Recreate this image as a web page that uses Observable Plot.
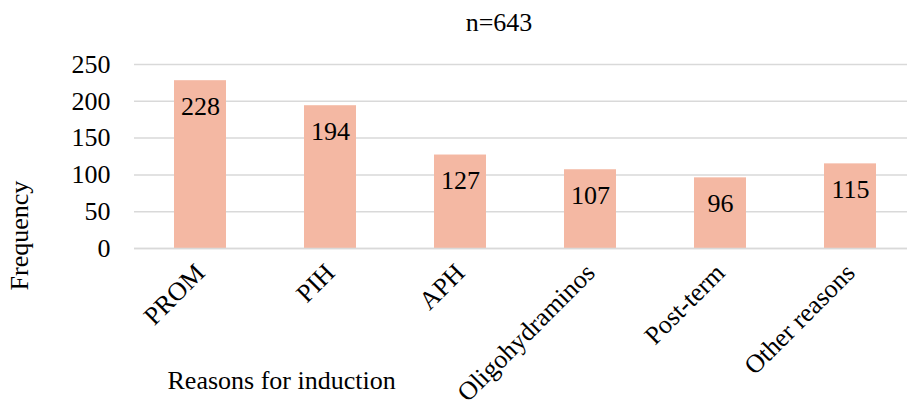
<!DOCTYPE html>
<html>
<head>
<meta charset="utf-8">
<script src="https://cdn.jsdelivr.net/npm/d3@7"></script>
<script src="https://cdn.jsdelivr.net/npm/@observablehq/plot@0.6"></script>
<style>
  html, body { margin: 0; padding: 0; background: #fff; }
  svg { display: block; }
  svg text { font-family: 'Liberation Serif', 'Times New Roman', serif; }
</style>
</head>
<body>
<div id="chart"></div>
<script>
const categories = ["PROM", "PIH", "APH", "Oligohydraminos", "Post-term", "Other reasons"];
const frequencies = [228, 194, 127, 107, 96, 115];
const yTicks = [0, 50, 100, 150, 200, 250];
const titleText = "n=643";
const xTitle = "Reasons for induction";
const yTitle = "Frequency";

const data = categories.map((c, i) => ({reason: c, freq: frequencies[i]}));
const font = "'Liberation Serif', 'Times New Roman', serif";

const chart = Plot.plot({
  width: 907,
  height: 407,
  marginLeft: 134,
  marginRight: 0,
  marginTop: 64,
  marginBottom: 159,
  style: {fontFamily: font, fontSize: "26px", color: "#000", background: "#fff"},
  x: {domain: categories, range: [133.7, 917.3], paddingInner: 0.6, paddingOuter: 0.3},
  y: {domain: [0, 250]},
  marks: [
    Plot.gridY(yTicks, {stroke: "#d9d9d9", strokeOpacity: 1, strokeWidth: 1.5}),
    Plot.barY(data, {x: "reason", y: "freq", fill: "#F4B8A3"}),
    Plot.ruleY([0], {stroke: "#d9d9d9", strokeWidth: 1.5}),
    Plot.text(data, {x: "reason", y: "freq", text: d => String(d.freq), dy: 26, lineAnchor: "middle", fill: "#000", fontSize: 26, fontFamily: font}),
    Plot.axisY({ticks: yTicks, tickSize: 0, tickPadding: 24, label: null, fontSize: 26, fontFamily: font}),
    Plot.axisX({tickSize: 0, tickRotate: -45, tickPadding: 20, label: null, fontSize: 26, fontFamily: font}),
    Plot.text([titleText], {frameAnchor: "top", textAnchor: "middle", dx: -22, dy: -42, lineAnchor: "middle", fontSize: 26, fontFamily: font}),
    Plot.text([xTitle], {frameAnchor: "bottom-left", textAnchor: "start", dx: 33, dy: 132, lineAnchor: "middle", fontSize: 26, fontFamily: font}),
    Plot.text([yTitle], {frameAnchor: "left", textAnchor: "middle", rotate: -90, dx: -115, dy: 79, lineAnchor: "middle", fontSize: 26, fontFamily: font})
  ]
});
document.getElementById("chart").appendChild(chart);
</script>
</body>
</html>
